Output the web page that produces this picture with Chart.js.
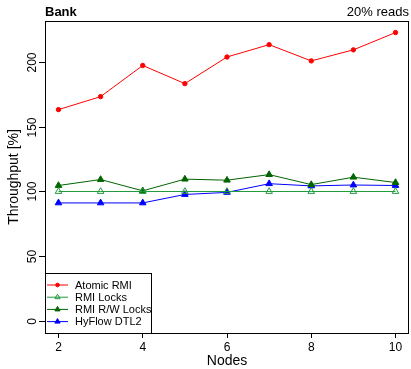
<!DOCTYPE html>
<html>
<head>
<meta charset="utf-8">
<script src="https://cdn.jsdelivr.net/npm/chart.js@4"></script>
<style>
  html, body { margin: 0; padding: 0; background: #fff; }
  #wrap { width: 411px; height: 369px; }
</style>
</head>
<body>
<div id="wrap"><canvas id="chart" width="411" height="369"></canvas></div>
<script>
// Data
const nodes = [2, 3, 4, 5, 6, 7, 8, 9, 10];
const atomicRmi = [163, 173, 197, 183, 203.5, 213, 200.5, 209, 222.3];
const rmiLocks = [100, 100, 100, 100, 100, 100, 100, 100, 100];
const rmiRwLocks = [104.6, 109.2, 100.5, 109.5, 108.7, 113, 105.3, 111, 106.9];
const hyflowDtl2 = [91.2, 91.2, 91.2, 97.7, 99.3, 106, 104.3, 105, 104.6];
const xTicks = [2, 4, 6, 8, 10];
const yTicks = [0, 50, 100, 150, 200];

const FONT = 'Arial, "Liberation Sans", Helvetica, sans-serif';

function series(label, values, color, style, filled) {
    return {
        label: label,
        data: nodes.map((n, i) => ({ x: n, y: values[i] })),
        borderColor: color,
        backgroundColor: filled ? color : '#fff',
        borderWidth: 1,
        pointStyle: style,
        pointRadius: style === 'circle' ? 2.2 : 3.8,
        pointBorderWidth: 1,
        pointBorderColor: color,
        pointBackgroundColor: filled ? color : 'rgba(255,255,255,0)',
        tension: 0
    };
}

const datasets = [
    series('Atomic RMI', atomicRmi, '#ff0000', 'circle', true),
    series('RMI Locks', rmiLocks, '#1f9a3c', 'triangle', false),
    series('RMI R/W Locks', rmiRwLocks, '#006400', 'triangle', true),
    series('HyFlow DTL2', hyflowDtl2, '#0000ff', 'triangle', true)
];

// ── Frame, y axis, titles and legend ─────────────────────────────────────────
const rStyle = {
    id: 'rStyle',
    afterDraw(chart) {
        const ctx = chart.ctx;
        const a = chart.chartArea;
        const ys = chart.scales.y;
        ctx.save();
        ctx.strokeStyle = '#000';
        ctx.lineWidth = 1;
        ctx.strokeRect(Math.round(a.left) + 0.5, Math.round(a.top) + 0.5,
            Math.round(a.right - a.left) - 1, Math.round(a.bottom - a.top));

        // y ticks and rotated labels
        ctx.fillStyle = '#000';
        ctx.font = '12px ' + FONT;
        ctx.textAlign = 'center';
        ctx.textBaseline = 'middle';
        yTicks.forEach(v => {
            const py = Math.round(ys.getPixelForValue(v)) + 0.5;
            ctx.beginPath();
            ctx.moveTo(a.left - 6, py);
            ctx.lineTo(a.left, py);
            ctx.stroke();
            ctx.save();
            ctx.translate(a.left - 12, py);
            ctx.rotate(-Math.PI / 2);
            ctx.fillText(String(v), 0, 0);
            ctx.restore();
        });

        // y axis title
        ctx.save();
        ctx.font = '14px ' + FONT;
        ctx.translate(14, (a.top + a.bottom) / 2);
        ctx.rotate(-Math.PI / 2);
        ctx.fillText('Throughput [%]', 0, 0);
        ctx.restore();

        // x axis title
        ctx.font = '14px ' + FONT;
        ctx.textBaseline = 'alphabetic';
        ctx.fillText('Nodes', (a.left + a.right) / 2, 365);

        // top titles
        ctx.font = 'bold 13px ' + FONT;
        ctx.textAlign = 'left';
        ctx.fillText('Bank', a.left, 16);
        ctx.font = '13px ' + FONT;
        ctx.textAlign = 'right';
        ctx.fillText('20% reads', a.right, 16);

        // legend box
        const lx = Math.round(a.left), ly = 273.5, lw = 106, lh = Math.round(a.bottom) - 273;
        ctx.fillStyle = '#fff';
        ctx.fillRect(lx + 0.5, ly, lw, lh);
        ctx.strokeStyle = '#000';
        ctx.strokeRect(lx + 0.5, ly, lw, lh);
        ctx.font = '11px ' + FONT;
        ctx.textAlign = 'left';
        ctx.textBaseline = 'middle';
        chart.data.datasets.forEach((ds, i) => {
            const y = 285 + i * 12.2;
            ctx.strokeStyle = ds.borderColor;
            ctx.beginPath();
            ctx.moveTo(lx + 2, y);
            ctx.lineTo(lx + 23, y);
            ctx.stroke();
            ctx.fillStyle = ds.pointBackgroundColor;
            Chart.helpers.drawPoint(ctx, {
                pointStyle: ds.pointStyle,
                radius: ds.pointStyle === 'circle' ? 1.8 : 3,
                borderWidth: 1,
                rotation: 0
            }, lx + 12.5, y);
            ctx.fillStyle = '#000';
            ctx.fillText(ds.label, lx + 30, y + 0.5);
        });
        ctx.restore();
    }
};

new Chart(document.getElementById('chart'), {
    type: 'line',
    data: { datasets: datasets },
    options: {
        responsive: false,
        animation: false,
        layout: { autoPadding: false, padding: { top: 21, right: 2, left: 0, bottom: 0 } },
        plugins: { legend: { display: false }, tooltip: { enabled: false } },
        scales: {
            x: {
                type: 'linear',
                min: 1.68,
                max: 10.32,
                afterBuildTicks: s => { s.ticks = xTicks.map(v => ({ value: v })); },
                afterFit: s => { s.height = 36; s.paddingLeft = 0; s.paddingRight = 0; },
                grid: { drawOnChartArea: false, drawTicks: true, tickLength: 5, color: '#000' },
                border: { display: false },
                ticks: { color: '#000', font: { family: FONT, size: 12 }, padding: 2, maxRotation: 0 }
            },
            y: {
                type: 'linear',
                min: -8.9,
                max: 231.2,
                afterFit: s => { s.width = 45; s.paddingTop = 0; s.paddingBottom = 0; },
                grid: { display: false },
                border: { display: false },
                ticks: { display: false }
            }
        }
    },
    plugins: [rStyle]
});
</script>
</body>
</html>
